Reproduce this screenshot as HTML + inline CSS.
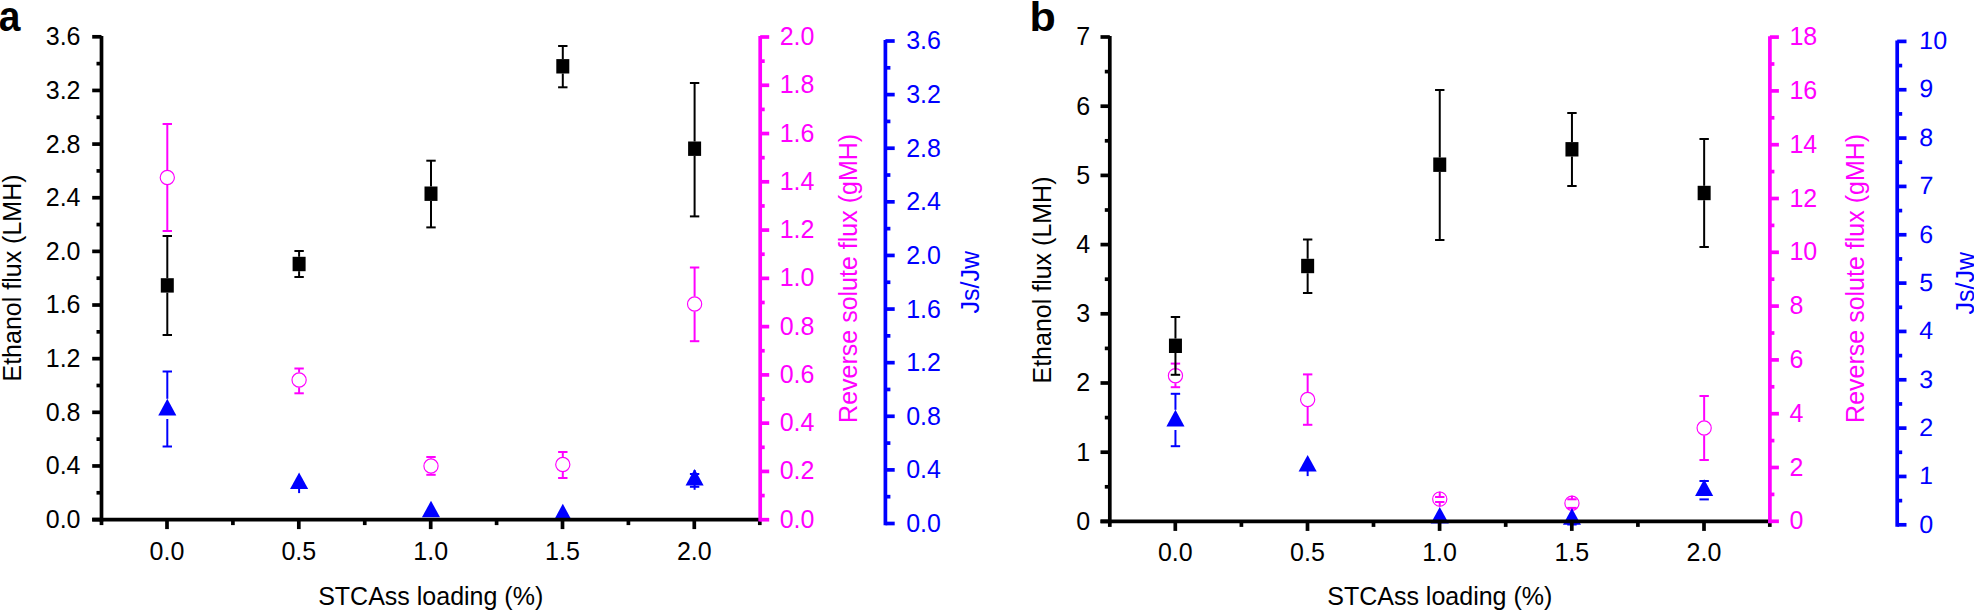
<!DOCTYPE html>
<html><head><meta charset="utf-8"><title>Figure</title>
<style>
html,body{margin:0;padding:0;background:#fff;}
body{width:1974px;height:610px;overflow:hidden;}
svg{display:block;font-family:"Liberation Sans",sans-serif;}
</style></head><body>
<svg width="1974" height="610" viewBox="0 0 1974 610">
<rect width="1974" height="610" fill="#fff"/>
<g id="panel-a">
<text transform="translate(-1.2 31.3) scale(0.95 1.055)" font-size="41" font-weight="bold" fill="#000">a</text>
<line x1="167.30" y1="170.00" x2="167.30" y2="124.00" stroke="#ff00ff" stroke-width="2.0" stroke-linecap="butt"/>
<line x1="167.30" y1="185.00" x2="167.30" y2="231.00" stroke="#ff00ff" stroke-width="2.0" stroke-linecap="butt"/>
<line x1="162.60" y1="124.00" x2="172.00" y2="124.00" stroke="#ff00ff" stroke-width="2.0" stroke-linecap="butt"/>
<line x1="162.60" y1="231.00" x2="172.00" y2="231.00" stroke="#ff00ff" stroke-width="2.0" stroke-linecap="butt"/>
<circle cx="167.30" cy="177.50" r="7.1" fill="none" stroke="#ff00ff" stroke-width="1.15"/>
<line x1="299.10" y1="372.50" x2="299.10" y2="368.50" stroke="#ff00ff" stroke-width="2.0" stroke-linecap="butt"/>
<line x1="299.10" y1="387.50" x2="299.10" y2="393.30" stroke="#ff00ff" stroke-width="2.0" stroke-linecap="butt"/>
<line x1="294.40" y1="368.50" x2="303.80" y2="368.50" stroke="#ff00ff" stroke-width="2.0" stroke-linecap="butt"/>
<line x1="294.40" y1="393.30" x2="303.80" y2="393.30" stroke="#ff00ff" stroke-width="2.0" stroke-linecap="butt"/>
<circle cx="299.10" cy="380.00" r="7.1" fill="none" stroke="#ff00ff" stroke-width="1.15"/>
<line x1="431.00" y1="458.50" x2="431.00" y2="457.00" stroke="#ff00ff" stroke-width="2.0" stroke-linecap="butt"/>
<line x1="431.00" y1="473.50" x2="431.00" y2="474.80" stroke="#ff00ff" stroke-width="2.0" stroke-linecap="butt"/>
<line x1="426.30" y1="457.00" x2="435.70" y2="457.00" stroke="#ff00ff" stroke-width="2.0" stroke-linecap="butt"/>
<line x1="426.30" y1="474.80" x2="435.70" y2="474.80" stroke="#ff00ff" stroke-width="2.0" stroke-linecap="butt"/>
<circle cx="431.00" cy="466.00" r="7.1" fill="none" stroke="#ff00ff" stroke-width="1.15"/>
<line x1="562.80" y1="457.00" x2="562.80" y2="452.00" stroke="#ff00ff" stroke-width="2.0" stroke-linecap="butt"/>
<line x1="562.80" y1="472.00" x2="562.80" y2="478.00" stroke="#ff00ff" stroke-width="2.0" stroke-linecap="butt"/>
<line x1="558.10" y1="452.00" x2="567.50" y2="452.00" stroke="#ff00ff" stroke-width="2.0" stroke-linecap="butt"/>
<line x1="558.10" y1="478.00" x2="567.50" y2="478.00" stroke="#ff00ff" stroke-width="2.0" stroke-linecap="butt"/>
<circle cx="562.80" cy="464.50" r="7.1" fill="none" stroke="#ff00ff" stroke-width="1.15"/>
<line x1="694.60" y1="296.50" x2="694.60" y2="267.50" stroke="#ff00ff" stroke-width="2.0" stroke-linecap="butt"/>
<line x1="694.60" y1="311.50" x2="694.60" y2="341.20" stroke="#ff00ff" stroke-width="2.0" stroke-linecap="butt"/>
<line x1="689.90" y1="267.50" x2="699.30" y2="267.50" stroke="#ff00ff" stroke-width="2.0" stroke-linecap="butt"/>
<line x1="689.90" y1="341.20" x2="699.30" y2="341.20" stroke="#ff00ff" stroke-width="2.0" stroke-linecap="butt"/>
<circle cx="694.60" cy="304.00" r="7.1" fill="none" stroke="#ff00ff" stroke-width="1.15"/>
<line x1="167.30" y1="398.80" x2="167.30" y2="371.50" stroke="#0000ff" stroke-width="2.0" stroke-linecap="butt"/>
<line x1="167.30" y1="419.00" x2="167.30" y2="446.50" stroke="#0000ff" stroke-width="2.0" stroke-linecap="butt"/>
<line x1="162.60" y1="371.50" x2="172.00" y2="371.50" stroke="#0000ff" stroke-width="2.0" stroke-linecap="butt"/>
<line x1="162.60" y1="446.50" x2="172.00" y2="446.50" stroke="#0000ff" stroke-width="2.0" stroke-linecap="butt"/>
<polygon points="167.30,398.80 176.35,415.40 158.25,415.40" fill="#0000ff"/>
<line x1="299.10" y1="488.00" x2="299.10" y2="493.10" stroke="#0000ff" stroke-width="2.0" stroke-linecap="butt"/>
<polygon points="299.10,472.40 308.15,489.00 290.05,489.00" fill="#0000ff"/>
<polygon points="431.00,500.70 440.05,517.30 421.95,517.30" fill="#0000ff"/>
<polygon points="562.80,503.80 571.85,520.40 553.75,520.40" fill="#0000ff"/>
<line x1="694.60" y1="470.00" x2="694.60" y2="489.80" stroke="#0000ff" stroke-width="2.0" stroke-linecap="butt"/>
<line x1="689.90" y1="474.00" x2="699.30" y2="474.00" stroke="#0000ff" stroke-width="2.0" stroke-linecap="butt"/>
<line x1="689.90" y1="486.80" x2="699.30" y2="486.80" stroke="#0000ff" stroke-width="2.0" stroke-linecap="butt"/>
<polygon points="694.60,469.00 703.65,485.60 685.55,485.60" fill="#0000ff"/>
<line x1="167.30" y1="278.20" x2="167.30" y2="236.00" stroke="#000" stroke-width="2.0" stroke-linecap="butt"/>
<line x1="167.30" y1="292.60" x2="167.30" y2="335.00" stroke="#000" stroke-width="2.0" stroke-linecap="butt"/>
<line x1="162.60" y1="236.00" x2="172.00" y2="236.00" stroke="#000" stroke-width="2.0" stroke-linecap="butt"/>
<line x1="162.60" y1="335.00" x2="172.00" y2="335.00" stroke="#000" stroke-width="2.0" stroke-linecap="butt"/>
<rect x="160.80" y="278.20" width="13" height="14.4" fill="#000"/>
<line x1="299.10" y1="256.80" x2="299.10" y2="251.00" stroke="#000" stroke-width="2.0" stroke-linecap="butt"/>
<line x1="299.10" y1="271.20" x2="299.10" y2="277.00" stroke="#000" stroke-width="2.0" stroke-linecap="butt"/>
<line x1="294.40" y1="251.00" x2="303.80" y2="251.00" stroke="#000" stroke-width="2.0" stroke-linecap="butt"/>
<line x1="294.40" y1="277.00" x2="303.80" y2="277.00" stroke="#000" stroke-width="2.0" stroke-linecap="butt"/>
<rect x="292.60" y="256.80" width="13" height="14.4" fill="#000"/>
<line x1="431.00" y1="186.50" x2="431.00" y2="160.70" stroke="#000" stroke-width="2.0" stroke-linecap="butt"/>
<line x1="431.00" y1="200.90" x2="431.00" y2="227.40" stroke="#000" stroke-width="2.0" stroke-linecap="butt"/>
<line x1="426.30" y1="160.70" x2="435.70" y2="160.70" stroke="#000" stroke-width="2.0" stroke-linecap="butt"/>
<line x1="426.30" y1="227.40" x2="435.70" y2="227.40" stroke="#000" stroke-width="2.0" stroke-linecap="butt"/>
<rect x="424.50" y="186.50" width="13" height="14.4" fill="#000"/>
<line x1="562.80" y1="59.10" x2="562.80" y2="46.00" stroke="#000" stroke-width="2.0" stroke-linecap="butt"/>
<line x1="562.80" y1="73.50" x2="562.80" y2="87.30" stroke="#000" stroke-width="2.0" stroke-linecap="butt"/>
<line x1="558.10" y1="46.00" x2="567.50" y2="46.00" stroke="#000" stroke-width="2.0" stroke-linecap="butt"/>
<line x1="558.10" y1="87.30" x2="567.50" y2="87.30" stroke="#000" stroke-width="2.0" stroke-linecap="butt"/>
<rect x="556.30" y="59.10" width="13" height="14.4" fill="#000"/>
<line x1="694.60" y1="141.50" x2="694.60" y2="83.00" stroke="#000" stroke-width="2.0" stroke-linecap="butt"/>
<line x1="694.60" y1="155.90" x2="694.60" y2="216.40" stroke="#000" stroke-width="2.0" stroke-linecap="butt"/>
<line x1="689.90" y1="83.00" x2="699.30" y2="83.00" stroke="#000" stroke-width="2.0" stroke-linecap="butt"/>
<line x1="689.90" y1="216.40" x2="699.30" y2="216.40" stroke="#000" stroke-width="2.0" stroke-linecap="butt"/>
<rect x="688.10" y="141.50" width="13" height="14.4" fill="#000"/>
<line x1="101.50" y1="35.88" x2="101.50" y2="521.45" stroke="#000" stroke-width="3.7" stroke-linecap="butt"/>
<line x1="92.20" y1="519.60" x2="101.50" y2="519.60" stroke="#000" stroke-width="3.7" stroke-linecap="butt"/>
<text x="80.5" y="528.0" fill="#000" font-size="25" text-anchor="end" font-weight="normal" font-style="normal">0.0</text>
<line x1="96.50" y1="492.78" x2="101.50" y2="492.78" stroke="#000" stroke-width="3.7" stroke-linecap="butt"/>
<line x1="92.20" y1="465.96" x2="101.50" y2="465.96" stroke="#000" stroke-width="3.7" stroke-linecap="butt"/>
<text x="80.5" y="474.4" fill="#000" font-size="25" text-anchor="end" font-weight="normal" font-style="normal">0.4</text>
<line x1="96.50" y1="439.13" x2="101.50" y2="439.13" stroke="#000" stroke-width="3.7" stroke-linecap="butt"/>
<line x1="92.20" y1="412.31" x2="101.50" y2="412.31" stroke="#000" stroke-width="3.7" stroke-linecap="butt"/>
<text x="80.5" y="420.7" fill="#000" font-size="25" text-anchor="end" font-weight="normal" font-style="normal">0.8</text>
<line x1="96.50" y1="385.49" x2="101.50" y2="385.49" stroke="#000" stroke-width="3.7" stroke-linecap="butt"/>
<line x1="92.20" y1="358.67" x2="101.50" y2="358.67" stroke="#000" stroke-width="3.7" stroke-linecap="butt"/>
<text x="80.5" y="367.1" fill="#000" font-size="25" text-anchor="end" font-weight="normal" font-style="normal">1.2</text>
<line x1="96.50" y1="331.84" x2="101.50" y2="331.84" stroke="#000" stroke-width="3.7" stroke-linecap="butt"/>
<line x1="92.20" y1="305.02" x2="101.50" y2="305.02" stroke="#000" stroke-width="3.7" stroke-linecap="butt"/>
<text x="80.5" y="313.4" fill="#000" font-size="25" text-anchor="end" font-weight="normal" font-style="normal">1.6</text>
<line x1="96.50" y1="278.20" x2="101.50" y2="278.20" stroke="#000" stroke-width="3.7" stroke-linecap="butt"/>
<line x1="92.20" y1="251.38" x2="101.50" y2="251.38" stroke="#000" stroke-width="3.7" stroke-linecap="butt"/>
<text x="80.5" y="259.8" fill="#000" font-size="25" text-anchor="end" font-weight="normal" font-style="normal">2.0</text>
<line x1="96.50" y1="224.56" x2="101.50" y2="224.56" stroke="#000" stroke-width="3.7" stroke-linecap="butt"/>
<line x1="92.20" y1="197.73" x2="101.50" y2="197.73" stroke="#000" stroke-width="3.7" stroke-linecap="butt"/>
<text x="80.5" y="206.1" fill="#000" font-size="25" text-anchor="end" font-weight="normal" font-style="normal">2.4</text>
<line x1="96.50" y1="170.91" x2="101.50" y2="170.91" stroke="#000" stroke-width="3.7" stroke-linecap="butt"/>
<line x1="92.20" y1="144.09" x2="101.50" y2="144.09" stroke="#000" stroke-width="3.7" stroke-linecap="butt"/>
<text x="80.5" y="152.5" fill="#000" font-size="25" text-anchor="end" font-weight="normal" font-style="normal">2.8</text>
<line x1="96.50" y1="117.27" x2="101.50" y2="117.27" stroke="#000" stroke-width="3.7" stroke-linecap="butt"/>
<line x1="92.20" y1="90.44" x2="101.50" y2="90.44" stroke="#000" stroke-width="3.7" stroke-linecap="butt"/>
<text x="80.5" y="98.8" fill="#000" font-size="25" text-anchor="end" font-weight="normal" font-style="normal">3.2</text>
<line x1="96.50" y1="63.62" x2="101.50" y2="63.62" stroke="#000" stroke-width="3.7" stroke-linecap="butt"/>
<line x1="92.20" y1="36.80" x2="101.50" y2="36.80" stroke="#000" stroke-width="3.7" stroke-linecap="butt"/>
<text x="80.5" y="45.2" fill="#000" font-size="25" text-anchor="end" font-weight="normal" font-style="normal">3.6</text>
<line x1="92.20" y1="519.60" x2="760.80" y2="519.60" stroke="#000" stroke-width="3.7" stroke-linecap="butt"/>
<line x1="167.00" y1="519.60" x2="167.00" y2="529.10" stroke="#000" stroke-width="3.7" stroke-linecap="butt"/>
<text x="167" y="559.8" fill="#000" font-size="25" text-anchor="middle" font-weight="normal" font-style="normal">0.0</text>
<line x1="298.80" y1="519.60" x2="298.80" y2="529.10" stroke="#000" stroke-width="3.7" stroke-linecap="butt"/>
<text x="298.8" y="559.8" fill="#000" font-size="25" text-anchor="middle" font-weight="normal" font-style="normal">0.5</text>
<line x1="430.70" y1="519.60" x2="430.70" y2="529.10" stroke="#000" stroke-width="3.7" stroke-linecap="butt"/>
<text x="430.7" y="559.8" fill="#000" font-size="25" text-anchor="middle" font-weight="normal" font-style="normal">1.0</text>
<line x1="562.50" y1="519.60" x2="562.50" y2="529.10" stroke="#000" stroke-width="3.7" stroke-linecap="butt"/>
<text x="562.5" y="559.8" fill="#000" font-size="25" text-anchor="middle" font-weight="normal" font-style="normal">1.5</text>
<line x1="694.30" y1="519.60" x2="694.30" y2="529.10" stroke="#000" stroke-width="3.7" stroke-linecap="butt"/>
<text x="694.3" y="559.8" fill="#000" font-size="25" text-anchor="middle" font-weight="normal" font-style="normal">2.0</text>
<line x1="232.90" y1="519.60" x2="232.90" y2="525.10" stroke="#000" stroke-width="3.7" stroke-linecap="butt"/>
<line x1="364.75" y1="519.60" x2="364.75" y2="525.10" stroke="#000" stroke-width="3.7" stroke-linecap="butt"/>
<line x1="496.60" y1="519.60" x2="496.60" y2="525.10" stroke="#000" stroke-width="3.7" stroke-linecap="butt"/>
<line x1="628.40" y1="519.60" x2="628.40" y2="525.10" stroke="#000" stroke-width="3.7" stroke-linecap="butt"/>
<line x1="101.50" y1="519.60" x2="101.50" y2="525.10" stroke="#000" stroke-width="3.7" stroke-linecap="butt"/>
<line x1="759.80" y1="519.60" x2="759.80" y2="525.10" stroke="#000" stroke-width="3.7" stroke-linecap="butt"/>
<text x="430.7" y="605" fill="#000" font-size="25" text-anchor="middle" font-weight="normal" font-style="normal">STCAss loading (%)</text>
<line x1="760.20" y1="36.08" x2="760.20" y2="521.55" stroke="#ff00ff" stroke-width="3.7" stroke-linecap="butt"/>
<line x1="760.20" y1="519.70" x2="769.20" y2="519.70" stroke="#ff00ff" stroke-width="3.7" stroke-linecap="butt"/>
<text x="779.7" y="527.7" fill="#ff00ff" font-size="25" text-anchor="start" font-weight="normal" font-style="normal">0.0</text>
<line x1="760.20" y1="495.57" x2="764.70" y2="495.57" stroke="#ff00ff" stroke-width="3.7" stroke-linecap="butt"/>
<line x1="760.20" y1="471.43" x2="769.20" y2="471.43" stroke="#ff00ff" stroke-width="3.7" stroke-linecap="butt"/>
<text x="779.7" y="479.4" fill="#ff00ff" font-size="25" text-anchor="start" font-weight="normal" font-style="normal">0.2</text>
<line x1="760.20" y1="447.30" x2="764.70" y2="447.30" stroke="#ff00ff" stroke-width="3.7" stroke-linecap="butt"/>
<line x1="760.20" y1="423.16" x2="769.20" y2="423.16" stroke="#ff00ff" stroke-width="3.7" stroke-linecap="butt"/>
<text x="779.7" y="431.2" fill="#ff00ff" font-size="25" text-anchor="start" font-weight="normal" font-style="normal">0.4</text>
<line x1="760.20" y1="399.03" x2="764.70" y2="399.03" stroke="#ff00ff" stroke-width="3.7" stroke-linecap="butt"/>
<line x1="760.20" y1="374.89" x2="769.20" y2="374.89" stroke="#ff00ff" stroke-width="3.7" stroke-linecap="butt"/>
<text x="779.7" y="382.9" fill="#ff00ff" font-size="25" text-anchor="start" font-weight="normal" font-style="normal">0.6</text>
<line x1="760.20" y1="350.76" x2="764.70" y2="350.76" stroke="#ff00ff" stroke-width="3.7" stroke-linecap="butt"/>
<line x1="760.20" y1="326.62" x2="769.20" y2="326.62" stroke="#ff00ff" stroke-width="3.7" stroke-linecap="butt"/>
<text x="779.7" y="334.6" fill="#ff00ff" font-size="25" text-anchor="start" font-weight="normal" font-style="normal">0.8</text>
<line x1="760.20" y1="302.49" x2="764.70" y2="302.49" stroke="#ff00ff" stroke-width="3.7" stroke-linecap="butt"/>
<line x1="760.20" y1="278.35" x2="769.20" y2="278.35" stroke="#ff00ff" stroke-width="3.7" stroke-linecap="butt"/>
<text x="779.7" y="286.4" fill="#ff00ff" font-size="25" text-anchor="start" font-weight="normal" font-style="normal">1.0</text>
<line x1="760.20" y1="254.22" x2="764.70" y2="254.22" stroke="#ff00ff" stroke-width="3.7" stroke-linecap="butt"/>
<line x1="760.20" y1="230.08" x2="769.20" y2="230.08" stroke="#ff00ff" stroke-width="3.7" stroke-linecap="butt"/>
<text x="779.7" y="238.1" fill="#ff00ff" font-size="25" text-anchor="start" font-weight="normal" font-style="normal">1.2</text>
<line x1="760.20" y1="205.95" x2="764.70" y2="205.95" stroke="#ff00ff" stroke-width="3.7" stroke-linecap="butt"/>
<line x1="760.20" y1="181.81" x2="769.20" y2="181.81" stroke="#ff00ff" stroke-width="3.7" stroke-linecap="butt"/>
<text x="779.7" y="189.8" fill="#ff00ff" font-size="25" text-anchor="start" font-weight="normal" font-style="normal">1.4</text>
<line x1="760.20" y1="157.68" x2="764.70" y2="157.68" stroke="#ff00ff" stroke-width="3.7" stroke-linecap="butt"/>
<line x1="760.20" y1="133.54" x2="769.20" y2="133.54" stroke="#ff00ff" stroke-width="3.7" stroke-linecap="butt"/>
<text x="779.7" y="141.5" fill="#ff00ff" font-size="25" text-anchor="start" font-weight="normal" font-style="normal">1.6</text>
<line x1="760.20" y1="109.41" x2="764.70" y2="109.41" stroke="#ff00ff" stroke-width="3.7" stroke-linecap="butt"/>
<line x1="760.20" y1="85.27" x2="769.20" y2="85.27" stroke="#ff00ff" stroke-width="3.7" stroke-linecap="butt"/>
<text x="779.7" y="93.3" fill="#ff00ff" font-size="25" text-anchor="start" font-weight="normal" font-style="normal">1.8</text>
<line x1="760.20" y1="61.14" x2="764.70" y2="61.14" stroke="#ff00ff" stroke-width="3.7" stroke-linecap="butt"/>
<line x1="760.20" y1="37.00" x2="769.20" y2="37.00" stroke="#ff00ff" stroke-width="3.7" stroke-linecap="butt"/>
<text x="779.7" y="45.0" fill="#ff00ff" font-size="25" text-anchor="start" font-weight="normal" font-style="normal">2.0</text>
<line x1="885.40" y1="40.08" x2="885.40" y2="525.35" stroke="#0000ff" stroke-width="3.7" stroke-linecap="butt"/>
<line x1="885.40" y1="523.50" x2="894.70" y2="523.50" stroke="#0000ff" stroke-width="3.7" stroke-linecap="butt"/>
<text x="906.1999999999999" y="531.9" fill="#0000ff" font-size="25" text-anchor="start" font-weight="normal" font-style="normal">0.0</text>
<line x1="885.40" y1="496.69" x2="890.40" y2="496.69" stroke="#0000ff" stroke-width="3.7" stroke-linecap="butt"/>
<line x1="885.40" y1="469.89" x2="894.70" y2="469.89" stroke="#0000ff" stroke-width="3.7" stroke-linecap="butt"/>
<text x="906.1999999999999" y="478.3" fill="#0000ff" font-size="25" text-anchor="start" font-weight="normal" font-style="normal">0.4</text>
<line x1="885.40" y1="443.08" x2="890.40" y2="443.08" stroke="#0000ff" stroke-width="3.7" stroke-linecap="butt"/>
<line x1="885.40" y1="416.28" x2="894.70" y2="416.28" stroke="#0000ff" stroke-width="3.7" stroke-linecap="butt"/>
<text x="906.1999999999999" y="424.7" fill="#0000ff" font-size="25" text-anchor="start" font-weight="normal" font-style="normal">0.8</text>
<line x1="885.40" y1="389.47" x2="890.40" y2="389.47" stroke="#0000ff" stroke-width="3.7" stroke-linecap="butt"/>
<line x1="885.40" y1="362.67" x2="894.70" y2="362.67" stroke="#0000ff" stroke-width="3.7" stroke-linecap="butt"/>
<text x="906.1999999999999" y="371.1" fill="#0000ff" font-size="25" text-anchor="start" font-weight="normal" font-style="normal">1.2</text>
<line x1="885.40" y1="335.86" x2="890.40" y2="335.86" stroke="#0000ff" stroke-width="3.7" stroke-linecap="butt"/>
<line x1="885.40" y1="309.06" x2="894.70" y2="309.06" stroke="#0000ff" stroke-width="3.7" stroke-linecap="butt"/>
<text x="906.1999999999999" y="317.5" fill="#0000ff" font-size="25" text-anchor="start" font-weight="normal" font-style="normal">1.6</text>
<line x1="885.40" y1="282.25" x2="890.40" y2="282.25" stroke="#0000ff" stroke-width="3.7" stroke-linecap="butt"/>
<line x1="885.40" y1="255.44" x2="894.70" y2="255.44" stroke="#0000ff" stroke-width="3.7" stroke-linecap="butt"/>
<text x="906.1999999999999" y="263.8" fill="#0000ff" font-size="25" text-anchor="start" font-weight="normal" font-style="normal">2.0</text>
<line x1="885.40" y1="228.64" x2="890.40" y2="228.64" stroke="#0000ff" stroke-width="3.7" stroke-linecap="butt"/>
<line x1="885.40" y1="201.83" x2="894.70" y2="201.83" stroke="#0000ff" stroke-width="3.7" stroke-linecap="butt"/>
<text x="906.1999999999999" y="210.2" fill="#0000ff" font-size="25" text-anchor="start" font-weight="normal" font-style="normal">2.4</text>
<line x1="885.40" y1="175.03" x2="890.40" y2="175.03" stroke="#0000ff" stroke-width="3.7" stroke-linecap="butt"/>
<line x1="885.40" y1="148.22" x2="894.70" y2="148.22" stroke="#0000ff" stroke-width="3.7" stroke-linecap="butt"/>
<text x="906.1999999999999" y="156.6" fill="#0000ff" font-size="25" text-anchor="start" font-weight="normal" font-style="normal">2.8</text>
<line x1="885.40" y1="121.42" x2="890.40" y2="121.42" stroke="#0000ff" stroke-width="3.7" stroke-linecap="butt"/>
<line x1="885.40" y1="94.61" x2="894.70" y2="94.61" stroke="#0000ff" stroke-width="3.7" stroke-linecap="butt"/>
<text x="906.1999999999999" y="103.0" fill="#0000ff" font-size="25" text-anchor="start" font-weight="normal" font-style="normal">3.2</text>
<line x1="885.40" y1="67.81" x2="890.40" y2="67.81" stroke="#0000ff" stroke-width="3.7" stroke-linecap="butt"/>
<line x1="885.40" y1="41.00" x2="894.70" y2="41.00" stroke="#0000ff" stroke-width="3.7" stroke-linecap="butt"/>
<text x="906.1999999999999" y="49.4" fill="#0000ff" font-size="25" text-anchor="start" font-weight="normal" font-style="normal">3.6</text>
<text x="20.8" y="278" fill="#000" font-size="25" text-anchor="middle" font-weight="normal" font-style="normal" transform="rotate(-90 20.8 278)">Ethanol flux (LMH)</text>
<text x="856.7" y="278.4" fill="#ff00ff" font-size="25" text-anchor="middle" font-weight="normal" font-style="normal" transform="rotate(-90 856.7 278.4)">Reverse solute flux (gMH)</text>
<text x="979.5" y="282.3" fill="#0000ff" font-size="25" text-anchor="middle" font-weight="normal" font-style="normal" transform="rotate(-90 979.5 282.3)">Js/Jw</text>
</g>
<g id="panel-b">
<text transform="translate(1029.4 31.1) scale(1.05 1.0)" font-size="41" font-weight="bold" fill="#000">b</text>
<line x1="1175.45" y1="368.20" x2="1175.45" y2="363.60" stroke="#ff00ff" stroke-width="2.0" stroke-linecap="butt"/>
<line x1="1175.45" y1="383.20" x2="1175.45" y2="387.20" stroke="#ff00ff" stroke-width="2.0" stroke-linecap="butt"/>
<line x1="1170.75" y1="363.60" x2="1180.15" y2="363.60" stroke="#ff00ff" stroke-width="2.0" stroke-linecap="butt"/>
<line x1="1170.75" y1="387.20" x2="1180.15" y2="387.20" stroke="#ff00ff" stroke-width="2.0" stroke-linecap="butt"/>
<circle cx="1175.45" cy="375.70" r="7.1" fill="none" stroke="#ff00ff" stroke-width="1.15"/>
<line x1="1307.65" y1="392.00" x2="1307.65" y2="374.40" stroke="#ff00ff" stroke-width="2.0" stroke-linecap="butt"/>
<line x1="1307.65" y1="407.00" x2="1307.65" y2="424.80" stroke="#ff00ff" stroke-width="2.0" stroke-linecap="butt"/>
<line x1="1302.95" y1="374.40" x2="1312.35" y2="374.40" stroke="#ff00ff" stroke-width="2.0" stroke-linecap="butt"/>
<line x1="1302.95" y1="424.80" x2="1312.35" y2="424.80" stroke="#ff00ff" stroke-width="2.0" stroke-linecap="butt"/>
<circle cx="1307.65" cy="399.50" r="7.1" fill="none" stroke="#ff00ff" stroke-width="1.15"/>
<line x1="1439.75" y1="491.60" x2="1439.75" y2="497.00" stroke="#ff00ff" stroke-width="2.0" stroke-linecap="butt"/>
<line x1="1439.75" y1="506.60" x2="1439.75" y2="502.00" stroke="#ff00ff" stroke-width="2.0" stroke-linecap="butt"/>
<line x1="1435.05" y1="497.00" x2="1444.45" y2="497.00" stroke="#ff00ff" stroke-width="2.0" stroke-linecap="butt"/>
<line x1="1435.05" y1="502.00" x2="1444.45" y2="502.00" stroke="#ff00ff" stroke-width="2.0" stroke-linecap="butt"/>
<circle cx="1439.75" cy="499.10" r="7.1" fill="none" stroke="#ff00ff" stroke-width="1.15"/>
<line x1="1571.95" y1="495.70" x2="1571.95" y2="499.30" stroke="#ff00ff" stroke-width="2.0" stroke-linecap="butt"/>
<line x1="1571.95" y1="510.70" x2="1571.95" y2="507.90" stroke="#ff00ff" stroke-width="2.0" stroke-linecap="butt"/>
<line x1="1567.25" y1="499.30" x2="1576.65" y2="499.30" stroke="#ff00ff" stroke-width="2.0" stroke-linecap="butt"/>
<line x1="1567.25" y1="507.90" x2="1576.65" y2="507.90" stroke="#ff00ff" stroke-width="2.0" stroke-linecap="butt"/>
<circle cx="1571.95" cy="503.20" r="7.1" fill="none" stroke="#ff00ff" stroke-width="1.15"/>
<line x1="1704.15" y1="420.50" x2="1704.15" y2="396.00" stroke="#ff00ff" stroke-width="2.0" stroke-linecap="butt"/>
<line x1="1704.15" y1="435.50" x2="1704.15" y2="460.00" stroke="#ff00ff" stroke-width="2.0" stroke-linecap="butt"/>
<line x1="1699.45" y1="396.00" x2="1708.85" y2="396.00" stroke="#ff00ff" stroke-width="2.0" stroke-linecap="butt"/>
<line x1="1699.45" y1="460.00" x2="1708.85" y2="460.00" stroke="#ff00ff" stroke-width="2.0" stroke-linecap="butt"/>
<circle cx="1704.15" cy="428.00" r="7.1" fill="none" stroke="#ff00ff" stroke-width="1.15"/>
<line x1="1175.45" y1="409.80" x2="1175.45" y2="393.80" stroke="#0000ff" stroke-width="2.0" stroke-linecap="butt"/>
<line x1="1175.45" y1="430.00" x2="1175.45" y2="446.20" stroke="#0000ff" stroke-width="2.0" stroke-linecap="butt"/>
<line x1="1170.75" y1="393.80" x2="1180.15" y2="393.80" stroke="#0000ff" stroke-width="2.0" stroke-linecap="butt"/>
<line x1="1170.75" y1="446.20" x2="1180.15" y2="446.20" stroke="#0000ff" stroke-width="2.0" stroke-linecap="butt"/>
<polygon points="1175.45,409.80 1184.50,426.40 1166.40,426.40" fill="#0000ff"/>
<line x1="1307.65" y1="471.00" x2="1307.65" y2="476.10" stroke="#0000ff" stroke-width="2.0" stroke-linecap="butt"/>
<polygon points="1307.65,455.00 1316.70,471.60 1298.60,471.60" fill="#0000ff"/>
<polygon points="1439.75,507.00 1448.80,523.60 1430.70,523.60" fill="#0000ff"/>
<line x1="1567.25" y1="524.50" x2="1576.65" y2="524.50" stroke="#0000ff" stroke-width="2.0" stroke-linecap="butt"/>
<polygon points="1571.95,508.20 1581.00,524.80 1562.90,524.80" fill="#0000ff"/>
<line x1="1699.45" y1="481.00" x2="1708.85" y2="481.00" stroke="#0000ff" stroke-width="2.0" stroke-linecap="butt"/>
<line x1="1699.45" y1="499.40" x2="1708.85" y2="499.40" stroke="#0000ff" stroke-width="2.0" stroke-linecap="butt"/>
<polygon points="1704.15,479.30 1713.20,495.90 1695.10,495.90" fill="#0000ff"/>
<line x1="1175.45" y1="338.60" x2="1175.45" y2="317.00" stroke="#000" stroke-width="2.0" stroke-linecap="butt"/>
<line x1="1175.45" y1="353.00" x2="1175.45" y2="374.80" stroke="#000" stroke-width="2.0" stroke-linecap="butt"/>
<line x1="1170.75" y1="317.00" x2="1180.15" y2="317.00" stroke="#000" stroke-width="2.0" stroke-linecap="butt"/>
<line x1="1170.75" y1="374.80" x2="1180.15" y2="374.80" stroke="#000" stroke-width="2.0" stroke-linecap="butt"/>
<rect x="1168.95" y="338.60" width="13" height="14.4" fill="#000"/>
<line x1="1307.65" y1="258.80" x2="1307.65" y2="239.50" stroke="#000" stroke-width="2.0" stroke-linecap="butt"/>
<line x1="1307.65" y1="273.20" x2="1307.65" y2="293.00" stroke="#000" stroke-width="2.0" stroke-linecap="butt"/>
<line x1="1302.95" y1="239.50" x2="1312.35" y2="239.50" stroke="#000" stroke-width="2.0" stroke-linecap="butt"/>
<line x1="1302.95" y1="293.00" x2="1312.35" y2="293.00" stroke="#000" stroke-width="2.0" stroke-linecap="butt"/>
<rect x="1301.15" y="258.80" width="13" height="14.4" fill="#000"/>
<line x1="1439.75" y1="157.50" x2="1439.75" y2="90.00" stroke="#000" stroke-width="2.0" stroke-linecap="butt"/>
<line x1="1439.75" y1="171.90" x2="1439.75" y2="240.00" stroke="#000" stroke-width="2.0" stroke-linecap="butt"/>
<line x1="1435.05" y1="90.00" x2="1444.45" y2="90.00" stroke="#000" stroke-width="2.0" stroke-linecap="butt"/>
<line x1="1435.05" y1="240.00" x2="1444.45" y2="240.00" stroke="#000" stroke-width="2.0" stroke-linecap="butt"/>
<rect x="1433.25" y="157.50" width="13" height="14.4" fill="#000"/>
<line x1="1571.95" y1="142.10" x2="1571.95" y2="113.00" stroke="#000" stroke-width="2.0" stroke-linecap="butt"/>
<line x1="1571.95" y1="156.50" x2="1571.95" y2="186.00" stroke="#000" stroke-width="2.0" stroke-linecap="butt"/>
<line x1="1567.25" y1="113.00" x2="1576.65" y2="113.00" stroke="#000" stroke-width="2.0" stroke-linecap="butt"/>
<line x1="1567.25" y1="186.00" x2="1576.65" y2="186.00" stroke="#000" stroke-width="2.0" stroke-linecap="butt"/>
<rect x="1565.45" y="142.10" width="13" height="14.4" fill="#000"/>
<line x1="1704.15" y1="185.80" x2="1704.15" y2="139.00" stroke="#000" stroke-width="2.0" stroke-linecap="butt"/>
<line x1="1704.15" y1="200.20" x2="1704.15" y2="247.00" stroke="#000" stroke-width="2.0" stroke-linecap="butt"/>
<line x1="1699.45" y1="139.00" x2="1708.85" y2="139.00" stroke="#000" stroke-width="2.0" stroke-linecap="butt"/>
<line x1="1699.45" y1="247.00" x2="1708.85" y2="247.00" stroke="#000" stroke-width="2.0" stroke-linecap="butt"/>
<rect x="1697.65" y="185.80" width="13" height="14.4" fill="#000"/>
<line x1="1109.80" y1="36.08" x2="1109.80" y2="523.25" stroke="#000" stroke-width="3.7" stroke-linecap="butt"/>
<line x1="1100.50" y1="521.40" x2="1109.80" y2="521.40" stroke="#000" stroke-width="3.7" stroke-linecap="butt"/>
<text x="1090.1" y="529.8" fill="#000" font-size="25" text-anchor="end" font-weight="normal" font-style="normal">0</text>
<line x1="1104.80" y1="486.80" x2="1109.80" y2="486.80" stroke="#000" stroke-width="3.7" stroke-linecap="butt"/>
<line x1="1100.50" y1="452.20" x2="1109.80" y2="452.20" stroke="#000" stroke-width="3.7" stroke-linecap="butt"/>
<text x="1090.1" y="460.6" fill="#000" font-size="25" text-anchor="end" font-weight="normal" font-style="normal">1</text>
<line x1="1104.80" y1="417.60" x2="1109.80" y2="417.60" stroke="#000" stroke-width="3.7" stroke-linecap="butt"/>
<line x1="1100.50" y1="383.00" x2="1109.80" y2="383.00" stroke="#000" stroke-width="3.7" stroke-linecap="butt"/>
<text x="1090.1" y="391.4" fill="#000" font-size="25" text-anchor="end" font-weight="normal" font-style="normal">2</text>
<line x1="1104.80" y1="348.40" x2="1109.80" y2="348.40" stroke="#000" stroke-width="3.7" stroke-linecap="butt"/>
<line x1="1100.50" y1="313.80" x2="1109.80" y2="313.80" stroke="#000" stroke-width="3.7" stroke-linecap="butt"/>
<text x="1090.1" y="322.2" fill="#000" font-size="25" text-anchor="end" font-weight="normal" font-style="normal">3</text>
<line x1="1104.80" y1="279.20" x2="1109.80" y2="279.20" stroke="#000" stroke-width="3.7" stroke-linecap="butt"/>
<line x1="1100.50" y1="244.60" x2="1109.80" y2="244.60" stroke="#000" stroke-width="3.7" stroke-linecap="butt"/>
<text x="1090.1" y="253.0" fill="#000" font-size="25" text-anchor="end" font-weight="normal" font-style="normal">4</text>
<line x1="1104.80" y1="210.00" x2="1109.80" y2="210.00" stroke="#000" stroke-width="3.7" stroke-linecap="butt"/>
<line x1="1100.50" y1="175.40" x2="1109.80" y2="175.40" stroke="#000" stroke-width="3.7" stroke-linecap="butt"/>
<text x="1090.1" y="183.8" fill="#000" font-size="25" text-anchor="end" font-weight="normal" font-style="normal">5</text>
<line x1="1104.80" y1="140.80" x2="1109.80" y2="140.80" stroke="#000" stroke-width="3.7" stroke-linecap="butt"/>
<line x1="1100.50" y1="106.20" x2="1109.80" y2="106.20" stroke="#000" stroke-width="3.7" stroke-linecap="butt"/>
<text x="1090.1" y="114.6" fill="#000" font-size="25" text-anchor="end" font-weight="normal" font-style="normal">6</text>
<line x1="1104.80" y1="71.60" x2="1109.80" y2="71.60" stroke="#000" stroke-width="3.7" stroke-linecap="butt"/>
<line x1="1100.50" y1="37.00" x2="1109.80" y2="37.00" stroke="#000" stroke-width="3.7" stroke-linecap="butt"/>
<text x="1090.1" y="45.4" fill="#000" font-size="25" text-anchor="end" font-weight="normal" font-style="normal">7</text>
<line x1="1100.50" y1="521.40" x2="1770.80" y2="521.40" stroke="#000" stroke-width="3.7" stroke-linecap="butt"/>
<line x1="1175.30" y1="521.40" x2="1175.30" y2="530.90" stroke="#000" stroke-width="3.7" stroke-linecap="butt"/>
<text x="1175.3" y="560.5" fill="#000" font-size="25" text-anchor="middle" font-weight="normal" font-style="normal">0.0</text>
<line x1="1307.50" y1="521.40" x2="1307.50" y2="530.90" stroke="#000" stroke-width="3.7" stroke-linecap="butt"/>
<text x="1307.5" y="560.5" fill="#000" font-size="25" text-anchor="middle" font-weight="normal" font-style="normal">0.5</text>
<line x1="1439.60" y1="521.40" x2="1439.60" y2="530.90" stroke="#000" stroke-width="3.7" stroke-linecap="butt"/>
<text x="1439.6" y="560.5" fill="#000" font-size="25" text-anchor="middle" font-weight="normal" font-style="normal">1.0</text>
<line x1="1571.80" y1="521.40" x2="1571.80" y2="530.90" stroke="#000" stroke-width="3.7" stroke-linecap="butt"/>
<text x="1571.8" y="560.5" fill="#000" font-size="25" text-anchor="middle" font-weight="normal" font-style="normal">1.5</text>
<line x1="1704.00" y1="521.40" x2="1704.00" y2="530.90" stroke="#000" stroke-width="3.7" stroke-linecap="butt"/>
<text x="1704" y="560.5" fill="#000" font-size="25" text-anchor="middle" font-weight="normal" font-style="normal">2.0</text>
<line x1="1241.40" y1="521.40" x2="1241.40" y2="526.90" stroke="#000" stroke-width="3.7" stroke-linecap="butt"/>
<line x1="1373.50" y1="521.40" x2="1373.50" y2="526.90" stroke="#000" stroke-width="3.7" stroke-linecap="butt"/>
<line x1="1505.70" y1="521.40" x2="1505.70" y2="526.90" stroke="#000" stroke-width="3.7" stroke-linecap="butt"/>
<line x1="1637.90" y1="521.40" x2="1637.90" y2="526.90" stroke="#000" stroke-width="3.7" stroke-linecap="butt"/>
<line x1="1109.80" y1="521.40" x2="1109.80" y2="526.90" stroke="#000" stroke-width="3.7" stroke-linecap="butt"/>
<line x1="1769.80" y1="521.40" x2="1769.80" y2="526.90" stroke="#000" stroke-width="3.7" stroke-linecap="butt"/>
<text x="1439.8" y="605" fill="#000" font-size="25" text-anchor="middle" font-weight="normal" font-style="normal">STCAss loading (%)</text>
<line x1="1769.90" y1="36.18" x2="1769.90" y2="523.15" stroke="#ff00ff" stroke-width="3.7" stroke-linecap="butt"/>
<line x1="1769.90" y1="521.30" x2="1778.90" y2="521.30" stroke="#ff00ff" stroke-width="3.7" stroke-linecap="butt"/>
<text x="1789.4" y="529.3" fill="#ff00ff" font-size="25" text-anchor="start" font-weight="normal" font-style="normal">0</text>
<line x1="1769.90" y1="494.40" x2="1774.40" y2="494.40" stroke="#ff00ff" stroke-width="3.7" stroke-linecap="butt"/>
<line x1="1769.90" y1="467.50" x2="1778.90" y2="467.50" stroke="#ff00ff" stroke-width="3.7" stroke-linecap="butt"/>
<text x="1789.4" y="475.5" fill="#ff00ff" font-size="25" text-anchor="start" font-weight="normal" font-style="normal">2</text>
<line x1="1769.90" y1="440.60" x2="1774.40" y2="440.60" stroke="#ff00ff" stroke-width="3.7" stroke-linecap="butt"/>
<line x1="1769.90" y1="413.70" x2="1778.90" y2="413.70" stroke="#ff00ff" stroke-width="3.7" stroke-linecap="butt"/>
<text x="1789.4" y="421.7" fill="#ff00ff" font-size="25" text-anchor="start" font-weight="normal" font-style="normal">4</text>
<line x1="1769.90" y1="386.80" x2="1774.40" y2="386.80" stroke="#ff00ff" stroke-width="3.7" stroke-linecap="butt"/>
<line x1="1769.90" y1="359.90" x2="1778.90" y2="359.90" stroke="#ff00ff" stroke-width="3.7" stroke-linecap="butt"/>
<text x="1789.4" y="367.9" fill="#ff00ff" font-size="25" text-anchor="start" font-weight="normal" font-style="normal">6</text>
<line x1="1769.90" y1="333.00" x2="1774.40" y2="333.00" stroke="#ff00ff" stroke-width="3.7" stroke-linecap="butt"/>
<line x1="1769.90" y1="306.10" x2="1778.90" y2="306.10" stroke="#ff00ff" stroke-width="3.7" stroke-linecap="butt"/>
<text x="1789.4" y="314.1" fill="#ff00ff" font-size="25" text-anchor="start" font-weight="normal" font-style="normal">8</text>
<line x1="1769.90" y1="279.20" x2="1774.40" y2="279.20" stroke="#ff00ff" stroke-width="3.7" stroke-linecap="butt"/>
<line x1="1769.90" y1="252.30" x2="1778.90" y2="252.30" stroke="#ff00ff" stroke-width="3.7" stroke-linecap="butt"/>
<text x="1789.4" y="260.3" fill="#ff00ff" font-size="25" text-anchor="start" font-weight="normal" font-style="normal">10</text>
<line x1="1769.90" y1="225.40" x2="1774.40" y2="225.40" stroke="#ff00ff" stroke-width="3.7" stroke-linecap="butt"/>
<line x1="1769.90" y1="198.50" x2="1778.90" y2="198.50" stroke="#ff00ff" stroke-width="3.7" stroke-linecap="butt"/>
<text x="1789.4" y="206.5" fill="#ff00ff" font-size="25" text-anchor="start" font-weight="normal" font-style="normal">12</text>
<line x1="1769.90" y1="171.60" x2="1774.40" y2="171.60" stroke="#ff00ff" stroke-width="3.7" stroke-linecap="butt"/>
<line x1="1769.90" y1="144.70" x2="1778.90" y2="144.70" stroke="#ff00ff" stroke-width="3.7" stroke-linecap="butt"/>
<text x="1789.4" y="152.7" fill="#ff00ff" font-size="25" text-anchor="start" font-weight="normal" font-style="normal">14</text>
<line x1="1769.90" y1="117.80" x2="1774.40" y2="117.80" stroke="#ff00ff" stroke-width="3.7" stroke-linecap="butt"/>
<line x1="1769.90" y1="90.90" x2="1778.90" y2="90.90" stroke="#ff00ff" stroke-width="3.7" stroke-linecap="butt"/>
<text x="1789.4" y="98.9" fill="#ff00ff" font-size="25" text-anchor="start" font-weight="normal" font-style="normal">16</text>
<line x1="1769.90" y1="64.00" x2="1774.40" y2="64.00" stroke="#ff00ff" stroke-width="3.7" stroke-linecap="butt"/>
<line x1="1769.90" y1="37.10" x2="1778.90" y2="37.10" stroke="#ff00ff" stroke-width="3.7" stroke-linecap="butt"/>
<text x="1789.4" y="45.1" fill="#ff00ff" font-size="25" text-anchor="start" font-weight="normal" font-style="normal">18</text>
<line x1="1897.20" y1="40.48" x2="1897.20" y2="526.65" stroke="#0000ff" stroke-width="3.7" stroke-linecap="butt"/>
<line x1="1897.20" y1="524.80" x2="1906.50" y2="524.80" stroke="#0000ff" stroke-width="3.7" stroke-linecap="butt"/>
<text transform="translate(1919.0 532.5) skewX(-2)" fill="#0000ff" font-size="25">0</text>
<line x1="1897.20" y1="500.63" x2="1902.20" y2="500.63" stroke="#0000ff" stroke-width="3.7" stroke-linecap="butt"/>
<line x1="1897.20" y1="476.46" x2="1906.50" y2="476.46" stroke="#0000ff" stroke-width="3.7" stroke-linecap="butt"/>
<text transform="translate(1919.0 484.2) skewX(-2)" fill="#0000ff" font-size="25">1</text>
<line x1="1897.20" y1="452.29" x2="1902.20" y2="452.29" stroke="#0000ff" stroke-width="3.7" stroke-linecap="butt"/>
<line x1="1897.20" y1="428.12" x2="1906.50" y2="428.12" stroke="#0000ff" stroke-width="3.7" stroke-linecap="butt"/>
<text transform="translate(1919.0 435.8) skewX(-2)" fill="#0000ff" font-size="25">2</text>
<line x1="1897.20" y1="403.95" x2="1902.20" y2="403.95" stroke="#0000ff" stroke-width="3.7" stroke-linecap="butt"/>
<line x1="1897.20" y1="379.78" x2="1906.50" y2="379.78" stroke="#0000ff" stroke-width="3.7" stroke-linecap="butt"/>
<text transform="translate(1919.0 387.5) skewX(-2)" fill="#0000ff" font-size="25">3</text>
<line x1="1897.20" y1="355.61" x2="1902.20" y2="355.61" stroke="#0000ff" stroke-width="3.7" stroke-linecap="butt"/>
<line x1="1897.20" y1="331.44" x2="1906.50" y2="331.44" stroke="#0000ff" stroke-width="3.7" stroke-linecap="butt"/>
<text transform="translate(1919.0 339.1) skewX(-2)" fill="#0000ff" font-size="25">4</text>
<line x1="1897.20" y1="307.27" x2="1902.20" y2="307.27" stroke="#0000ff" stroke-width="3.7" stroke-linecap="butt"/>
<line x1="1897.20" y1="283.10" x2="1906.50" y2="283.10" stroke="#0000ff" stroke-width="3.7" stroke-linecap="butt"/>
<text transform="translate(1919.0 290.8) skewX(-2)" fill="#0000ff" font-size="25">5</text>
<line x1="1897.20" y1="258.93" x2="1902.20" y2="258.93" stroke="#0000ff" stroke-width="3.7" stroke-linecap="butt"/>
<line x1="1897.20" y1="234.76" x2="1906.50" y2="234.76" stroke="#0000ff" stroke-width="3.7" stroke-linecap="butt"/>
<text transform="translate(1919.0 242.5) skewX(-2)" fill="#0000ff" font-size="25">6</text>
<line x1="1897.20" y1="210.59" x2="1902.20" y2="210.59" stroke="#0000ff" stroke-width="3.7" stroke-linecap="butt"/>
<line x1="1897.20" y1="186.42" x2="1906.50" y2="186.42" stroke="#0000ff" stroke-width="3.7" stroke-linecap="butt"/>
<text transform="translate(1919.0 194.1) skewX(-2)" fill="#0000ff" font-size="25">7</text>
<line x1="1897.20" y1="162.25" x2="1902.20" y2="162.25" stroke="#0000ff" stroke-width="3.7" stroke-linecap="butt"/>
<line x1="1897.20" y1="138.08" x2="1906.50" y2="138.08" stroke="#0000ff" stroke-width="3.7" stroke-linecap="butt"/>
<text transform="translate(1919.0 145.8) skewX(-2)" fill="#0000ff" font-size="25">8</text>
<line x1="1897.20" y1="113.91" x2="1902.20" y2="113.91" stroke="#0000ff" stroke-width="3.7" stroke-linecap="butt"/>
<line x1="1897.20" y1="89.74" x2="1906.50" y2="89.74" stroke="#0000ff" stroke-width="3.7" stroke-linecap="butt"/>
<text transform="translate(1919.0 97.4) skewX(-2)" fill="#0000ff" font-size="25">9</text>
<line x1="1897.20" y1="65.57" x2="1902.20" y2="65.57" stroke="#0000ff" stroke-width="3.7" stroke-linecap="butt"/>
<line x1="1897.20" y1="41.40" x2="1906.50" y2="41.40" stroke="#0000ff" stroke-width="3.7" stroke-linecap="butt"/>
<text transform="translate(1919.0 49.1) skewX(-2)" fill="#0000ff" font-size="25">10</text>
<text x="1051.3" y="280" fill="#000" font-size="25" text-anchor="middle" font-weight="normal" font-style="normal" transform="rotate(-90 1051.3 280)">Ethanol flux (LMH)</text>
<text x="1864.4" y="278.4" fill="#ff00ff" font-size="25" text-anchor="middle" font-weight="normal" font-style="normal" transform="rotate(-90 1864.4 278.4)">Reverse solute flux (gMH)</text>
<text x="1974" y="283.3" fill="#0000ff" font-size="25" text-anchor="middle" font-weight="normal" font-style="normal" transform="rotate(-90 1974 283.3)">Js/Jw</text>
</g>
</svg>
</body></html>
